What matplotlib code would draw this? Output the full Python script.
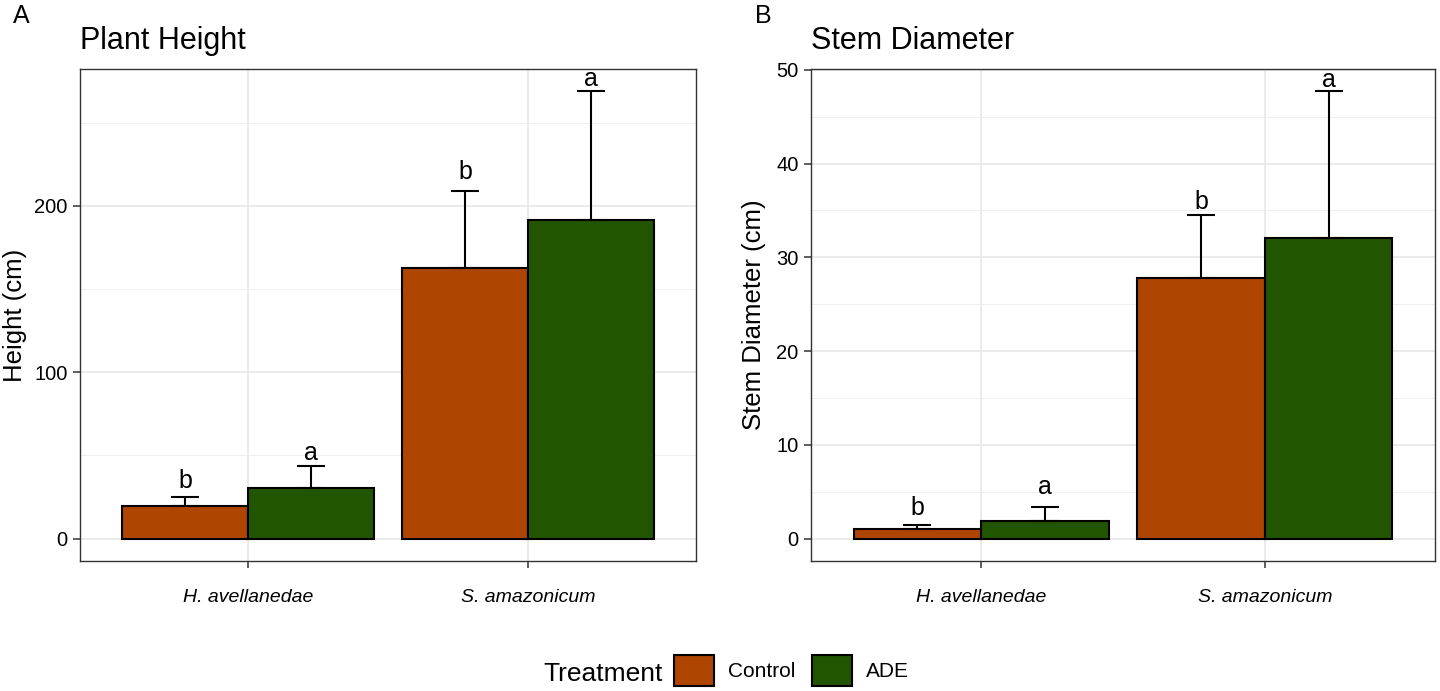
import matplotlib
matplotlib.use("Agg")
import matplotlib.pyplot as plt
from matplotlib.patches import Patch
import numpy as np

plt.rcParams["font.family"] = ["Liberation Sans", "DejaVu Sans"]

# values
species = ["H. avellanedae", "S. amazonicum"]
treatments = ["Control", "ADE"]
fills = ["#ae4500", "#225500"]

height_mean = {"Control": [19.6, 162.6], "ADE": [30.4, 191.5]}
height_sd = {"Control": [5.6, 46.6], "ADE": [13.0, 77.3]}
height_letters = {"Control": ["b", "b"], "ADE": ["a", "a"]}
height_letter_y = {"Control": [30.4, 216.1], "ADE": [47.4, 272.3]}

stem_mean = {"Control": [1.03, 27.75], "ADE": [1.92, 32.1]}
stem_sd = {"Control": [0.43, 6.75], "ADE": [1.45, 15.6]}
stem_letters = {"Control": ["b", "b"], "ADE": ["a", "a"]}
stem_letter_y = {"Control": [2.55, 35.2], "ADE": [4.79, 48.15]}

W, H = 1440, 691
fig = plt.figure(figsize=(W / 100, H / 100), dpi=100)


def px_axes(x0, y0, x1, y1):
    return fig.add_axes([x0 / W, 1 - y1 / H, (x1 - x0) / W, (y1 - y0) / H])


def panel(ax, mean, sd, letters, letter_y, title, ylabel, major, minor, label_x):
    x = np.arange(1, len(species) + 1)
    width = 0.45
    for i, tr in enumerate(treatments):
        xs = x + (i - 0.5) * width
        ax.bar(xs, mean[tr], width=width, color=fills[i], edgecolor="black",
               linewidth=1.5, zorder=3)
        ax.errorbar(xs, mean[tr], yerr=[np.zeros(len(xs)), sd[tr]], fmt="none",
                    ecolor="black", elinewidth=1.5, capsize=10, capthick=1.5, zorder=4)
        for xx, yy, lab in zip(xs, letter_y[tr], letters[tr]):
            ax.text(xx, yy, lab, ha="center", va="baseline", fontsize=18, zorder=5)
    top = max(max(np.add(mean[t], sd[t])) for t in treatments)
    ax.set_ylim(-0.05 * top, 1.05 * top)
    ax.set_xlim(0.4, 2.6)
    ax.set_xticks(x, species, fontstyle="italic", fontsize=14)
    ax.set_yticks(major)
    ax.set_yticks(minor, minor=True)
    ax.tick_params(axis="y", which="major", labelsize=14.5, length=5, width=1.1,
                   color="#333333", pad=4)
    ax.tick_params(axis="x", which="major", length=5, width=1.1, color="#333333", pad=15)
    ax.tick_params(which="minor", length=0)
    ax.grid(which="major", color="#e6e6e6", lw=1.1, zorder=0)
    ax.grid(which="minor", axis="y", color="#ececec", lw=0.6, zorder=0)
    ax.set_axisbelow(True)
    for s in ax.spines.values():
        s.set_color("#333333")
        s.set_linewidth(1.0)
    ax.set_title(title, loc="left", fontsize=22, pad=14.5)
    ax.set_ylabel(ylabel, fontsize=18.5)
    ax.yaxis.set_label_coords(label_x, 0.5)


axA = px_axes(80, 69, 696, 561)
panel(axA, height_mean, height_sd, height_letters, height_letter_y,
      "Plant Height", "Height (cm)", [0, 100, 200], [50, 150, 250], -0.086)

axB = px_axes(811, 69, 1435, 561)
panel(axB, stem_mean, stem_sd, stem_letters, stem_letter_y,
      "Stem Diameter", "Stem Diameter (cm)", [0, 10, 20, 30, 40, 50],
      [5, 15, 25, 35, 45], -0.072)

fig.text(12.5 / W, 1 - 22.7 / H, "A", fontsize=18, va="baseline", ha="left")
fig.text(755 / W, 1 - 22.7 / H, "B", fontsize=18, va="baseline", ha="left")

# legend with title to the left of the keys
fig.text(543 / W, 1 - 680.7 / H, "Treatment", fontsize=19, va="baseline", ha="left")
handles = [Patch(facecolor=c, edgecolor="black", linewidth=1.5) for c in fills]
fig.legend(handles, treatments, loc="center left",
           bbox_to_anchor=(674 / W, 1 - 670.3 / H), ncol=2, frameon=False,
           fontsize=15, handlelength=1.9, handleheight=1.9, handletextpad=0.7,
           columnspacing=0.8, borderpad=0, borderaxespad=0)

fig.savefig("out.png", dpi=100)
